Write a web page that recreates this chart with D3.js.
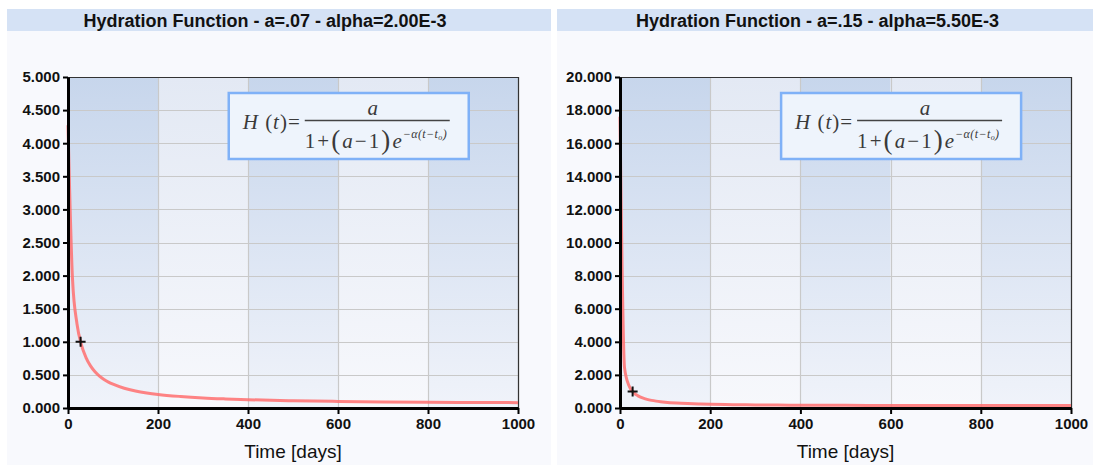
<!DOCTYPE html>
<html><head><meta charset="utf-8">
<script src="https://cdn.jsdelivr.net/npm/d3@7"></script>
<style>
html,body{margin:0;padding:0;background:#fff;}
svg{display:block;font-family:"Liberation Sans",Arial,sans-serif;}
</style></head>
<body><svg id="c" width="1099" height="465"></svg>
<script>
// ---- data ----
const titles = ["Hydration Function - a=.07 - alpha=2.00E-3", "Hydration Function - a=.15 - alpha=5.50E-3"];
const timeDays = [0,10,20,30,40,50,60,70,80,90,100,125,150,175,200,250,300,350,400,500,600,700,800,900,1000];
const hydrationA = [4.27,1.95,1.27,0.95,0.761,0.636,0.549,0.483,0.432,0.392,0.360,0.299,0.258,0.228,0.205,0.174,0.152,0.137,0.125,0.110,0.100,0.092,0.087,0.084,0.081];
const hydrationB = [17.6,2.44,1.34,0.94,0.734,0.608,0.522,0.461,0.415,0.379,0.350,0.299,0.265,0.241,0.224,0.200,0.185,0.175,0.169,0.160,0.156,0.153,0.152,0.151,0.150];
const markerA = [28, 1.0];
const markerB = [28, 1.0];
const yMax = [5, 20];
const xMax = 1000;
const xTicks = [0,200,400,600,800,1000];
const xLabel = "Time [days]";

const svg = d3.select("#c");
const defs = svg.append("defs");
function grad(id, top, bot){
  const g = defs.append("linearGradient").attr("id", id).attr("x1",0).attr("y1",0).attr("x2",0).attr("y2",1);
  g.append("stop").attr("offset","0%").attr("stop-color",top);
  g.append("stop").attr("offset","100%").attr("stop-color",bot);
}
grad("dark", "#c7d6ec", "#f0f3fa");
grad("light", "#e3e9f4", "#f7f8fc");

const panels = [
  {px:7, pw:544, x0:68, x1:518, series:hydrationA, marker:markerA, ymax:yMax[0], title:titles[0]},
  {px:557, pw:536, x0:620, x1:1071, series:hydrationB, marker:markerB, ymax:yMax[1], title:titles[1]}
];
const yTop = 77, yBot = 408;

panels.forEach((p, i) => {
  const g = svg.append("g");
  g.append("rect").attr("x", p.px).attr("y", 9).attr("width", p.pw).attr("height", 456).attr("fill", "#f8f9fd");
  g.append("rect").attr("x", p.px).attr("y", 9).attr("width", p.pw).attr("height", 22).attr("fill", "#d5e2f5");
  g.append("text").attr("x", (p.x0 + p.x1)/2 - 28).attr("y", 26.5).attr("text-anchor","middle")
    .attr("font-size", "18px").attr("font-weight","bold").attr("fill","#111").text(p.title);

  const x = d3.scaleLinear().domain([0, xMax]).range([p.x0, p.x1]);
  const y = d3.scaleLinear().domain([0, p.ymax]).range([yBot, yTop]);

  // bands
  for (let k = 0; k < xTicks.length - 1; k++) {
    g.append("rect").attr("x", x(xTicks[k])).attr("y", yTop)
      .attr("width", x(xTicks[k+1]) - x(xTicks[k])).attr("height", yBot - yTop)
      .attr("fill", k % 2 === 0 ? "url(#dark)" : "url(#light)");
  }
  // grid
  const yt = y.ticks(10);
  g.selectAll(".hg").data(yt).enter().append("line")
    .attr("x1", p.x0).attr("x2", p.x1).attr("y1", d => Math.round(y(d))+0.5).attr("y2", d => Math.round(y(d))+0.5)
    .attr("stroke", "#c9c9c9").attr("stroke-width", 1.2);
  g.selectAll(".vg").data(xTicks).enter().append("line")
    .attr("y1", yTop).attr("y2", yBot).attr("x1", d => Math.round(x(d))+0.5).attr("x2", d => Math.round(x(d))+0.5)
    .attr("stroke", "#c9c9c9").attr("stroke-width", 1.2);
  // border top/right
  g.append("path").attr("d", `M${p.x0},${yTop+0.5}H${p.x1+0.5}V${yBot}`).attr("fill","none").attr("stroke","#333").attr("stroke-width",1.2);

  // formula box
  const bx = x(355), bw = 240, by = 92, bh = 66;
  const fb = g.append("g").attr("transform", `translate(${bx},${by})`);
  fb.append("rect").attr("x",1).attr("y",1).attr("width",bw).attr("height",bh).attr("fill","#eef4fc").attr("stroke","#7fb1f7").attr("stroke-width",2.5);
  const ff = "'Liberation Serif','Times New Roman',serif";
  const col = "#3a3a3a";
  fb.append("text").attr("x",15).attr("y",37).attr("font-family",ff).attr("font-size","21px").attr("fill",col)
    .attr("textLength", 57).attr("lengthAdjust","spacing")
    .html('<tspan font-style="italic">H</tspan> (<tspan font-style="italic">t</tspan>)=');
  fb.append("line").attr("x1",77).attr("x2",222).attr("y1",28.5).attr("y2",28.5).attr("stroke","#444").attr("stroke-width",1.3);
  fb.append("text").attr("x",145).attr("y",23).attr("text-anchor","middle").attr("font-family",ff).attr("font-size","21px").attr("font-style","italic").attr("fill",col).text("a");
  fb.append("text").attr("x",77).attr("y",56).attr("font-family",ff).attr("font-size","21px").attr("fill",col)
    .attr("textLength", 97).attr("lengthAdjust","spacing")
    .html('1+<tspan font-size="27px" dy="1">(</tspan><tspan font-style="italic" dy="-1">a</tspan>−1<tspan font-size="27px" dy="1">)</tspan><tspan font-style="italic" dy="-1">e</tspan>');
  fb.append("text").attr("x",175).attr("y",46).attr("font-family",ff).attr("font-size","12px").attr("font-style","italic").attr("fill",col)
    .attr("textLength", 44).attr("lengthAdjust","spacing")
    .html('−α(t−t<tspan font-size="8px" dy="2">o</tspan><tspan dy="-2">)</tspan>');

  // curve
  const pts = timeDays.map((t, k) => [t, p.series[k]]);
  g.append("path").datum(pts).attr("fill","none").attr("stroke","#ff6f6f").attr("stroke-opacity",0.85)
    .attr("stroke-width",3).attr("stroke-linejoin","round")
    .attr("d", d3.line().x(d => x(d[0])).y(d => y(d[1])).curve(d3.curveMonotoneX));

  // marker
  const mx = x(p.marker[0]), my = y(p.marker[1]);
  g.append("path").attr("d", `M${mx-5},${my}H${mx+5}M${mx},${my-5}V${my+5}`).attr("stroke","#111").attr("stroke-width",2);

  // axes
  const fmt = d3.format(".3f");
  const ya = g.append("g").attr("transform", `translate(${p.x0},0)`)
    .call(d3.axisLeft(y).ticks(10).tickFormat(fmt).tickSize(5).tickSizeOuter(0));
  const xa = g.append("g").attr("transform", `translate(0,${yBot})`)
    .call(d3.axisBottom(x).tickValues(xTicks).tickFormat(d3.format("d")).tickSize(6).tickSizeOuter(0));
  [ya, xa].forEach(a => {
    a.select(".domain").attr("stroke","#000").attr("stroke-width",3);
    a.selectAll(".tick line").attr("stroke","#000").attr("stroke-width",2);
    a.selectAll(".tick text").attr("font-family","'Liberation Sans',Arial,sans-serif").attr("font-size","15px").attr("font-weight","bold").attr("fill","#111");
  });
  ya.selectAll(".tick text").attr("x", -8);
  xa.selectAll(".tick text").attr("y", 10);

  g.append("text").attr("x", (p.x0 + p.x1)/2).attr("y", 458).attr("text-anchor","middle")
    .attr("font-size","19px").attr("fill","#111").text(xLabel);
});
</script></body></html>
